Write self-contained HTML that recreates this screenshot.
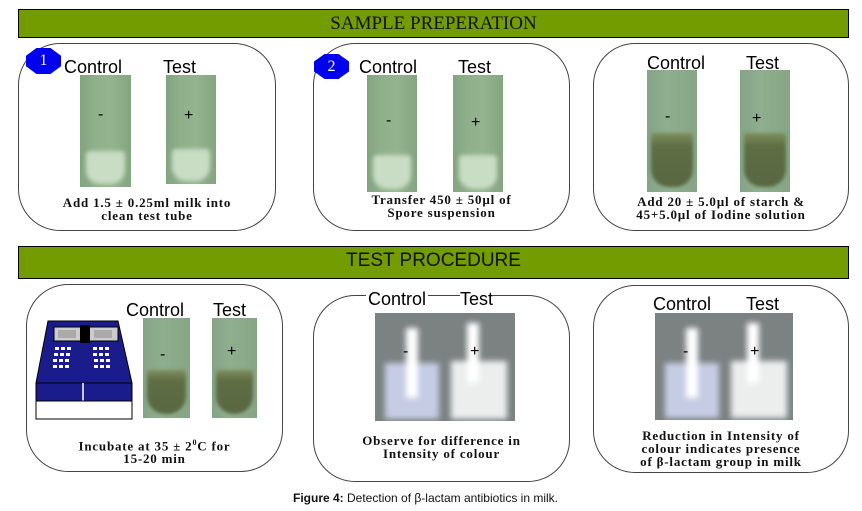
<!DOCTYPE html>
<html><head><meta charset="utf-8"><style>
body{margin:0;width:862px;height:511px;background:#fff;position:relative;overflow:hidden;font-family:"Liberation Sans",sans-serif}
.a{position:absolute}
.ban{position:absolute;background:#739c00;border:1px solid #000;box-sizing:border-box;text-align:center;color:#111}
.box{position:absolute;border:1.3px solid #444;border-radius:42px;box-sizing:border-box}
.lbl{position:absolute;font-size:18px;color:#000;line-height:18px}
.cap{position:absolute;font-family:"Liberation Serif",serif;font-weight:bold;font-size:13px;letter-spacing:0.8px;line-height:13px;text-align:center;color:#111}
.milk{position:absolute;background:linear-gradient(90deg,#82a47f,#8fb08b 30%,#94b38f 60%,#84a580);overflow:hidden}
.milk::after{content:"";position:absolute;left:12%;right:12%;top:68%;bottom:3%;background:#c9dcc4;border-radius:4px 4px 14px 14px;filter:blur(2px)}
.iod{position:absolute;background:linear-gradient(90deg,#84a486,#8fae8e 40%,#86a585);overflow:hidden}
.iod::after{content:"";position:absolute;left:8%;right:8%;top:52%;bottom:4%;background:linear-gradient(#7f8e5c,#5f6d45 25%,#5a6842);border-radius:3px 3px 18px 18px;filter:blur(1.5px)}
.sg{position:absolute;font-size:16px;color:#000;line-height:16px}
.glow{position:absolute;background:#7c8282;overflow:hidden}
.badge{position:absolute;background:#0000ee;color:#fff;font-family:"Liberation Serif",serif;font-size:16px;text-align:center;clip-path:polygon(30% 0,70% 0,100% 30%,100% 70%,70% 100%,30% 100%,0 70%,0 30%)}
</style></head><body>
<div class="ban" style="left:18px;top:9px;width:831px;height:29px;font-family:'Liberation Serif',serif;font-size:19px;line-height:28px">SAMPLE PREPERATION</div>
<div class="ban" style="left:18px;top:246px;width:831px;height:33px;font-size:19px;line-height:28px">TEST PROCEDURE</div>

<!-- row1 box1 -->
<div class="box" style="left:18px;top:43px;width:258px;height:188px"></div>
<div class="badge" style="left:26px;top:48px;width:35px;height:26px;line-height:26px">1</div>
<div class="lbl" style="left:64px;top:58px">Control</div>
<div class="lbl" style="left:163px;top:58px">Test</div>
<div class="milk" style="left:80px;top:75px;width:51px;height:112px"></div>
<div class="milk" style="left:166px;top:75px;width:50px;height:109px"></div>
<div class="sg" style="left:98px;top:107px">-</div>
<div class="sg" style="left:184px;top:108px">+</div>
<div class="cap" style="left:18px;top:196px;width:258px">Add 1.5 ± 0.25ml milk into<br>clean test tube</div>

<!-- row1 box2 -->
<div class="box" style="left:313px;top:43px;width:257px;height:188px"></div>
<div class="badge" style="left:314px;top:54px;width:35px;height:25px;line-height:25px">2</div>
<div class="lbl" style="left:359px;top:58px">Control</div>
<div class="lbl" style="left:458px;top:58px">Test</div>
<div class="milk" style="left:367px;top:75px;width:50px;height:117px"></div>
<div class="milk" style="left:453px;top:75px;width:50px;height:117px"></div>
<div class="sg" style="left:386px;top:113px">-</div>
<div class="sg" style="left:471px;top:115px">+</div>
<div class="cap" style="left:313px;top:193px;width:257px">Transfer 450 ± 50µl of<br>Spore suspension</div>

<!-- row1 box3 -->
<div class="box" style="left:593px;top:43px;width:256px;height:188px"></div>
<div class="lbl" style="left:647px;top:54px">Control</div>
<div class="lbl" style="left:746px;top:54px">Test</div>
<div class="iod" style="left:647px;top:70px;width:50px;height:122px"></div>
<div class="iod" style="left:740px;top:70px;width:50px;height:122px"></div>
<div class="sg" style="left:665px;top:109px">-</div>
<div class="sg" style="left:752px;top:111px">+</div>
<div class="cap" style="left:593px;top:195px;width:256px">Add 20 ± 5.0µl of starch &amp;<br>45+5.0µl of Iodine solution</div>

<!-- row2 box1 -->
<div class="box" style="left:26px;top:284px;width:257px;height:188px"></div>
<svg class="a" style="left:34px;top:319px" width="104" height="102" viewBox="0 0 104 102">
<polygon points="14,2 84,2 98,64 2,64" fill="#1b1c8c" stroke="#000"/>
<rect x="20" y="8" width="64" height="14" fill="#ccc" stroke="#000"/>
<rect x="46" y="6" width="10" height="18" fill="#000"/>
<rect x="24" y="11" width="18" height="8" fill="#aaa"/><rect x="60" y="11" width="18" height="8" fill="#aaa"/>
<g fill="#fff">
<rect x="21" y="28" width="4" height="3"/><rect x="27" y="28" width="4" height="3"/><rect x="33" y="28" width="4" height="3"/>
<rect x="20" y="34" width="4" height="3"/><rect x="26" y="34" width="4" height="3"/><rect x="32" y="34" width="4" height="3"/>
<rect x="19" y="40" width="4" height="3"/><rect x="25" y="40" width="4" height="3"/><rect x="31" y="40" width="4" height="3"/>
<rect x="19" y="46" width="4" height="3"/><rect x="25" y="46" width="4" height="3"/><rect x="31" y="46" width="4" height="3"/>
<rect x="59" y="28" width="4" height="3"/><rect x="65" y="28" width="4" height="3"/><rect x="71" y="28" width="4" height="3"/>
<rect x="59" y="34" width="4" height="3"/><rect x="65" y="34" width="4" height="3"/><rect x="71" y="34" width="4" height="3"/>
<rect x="60" y="40" width="4" height="3"/><rect x="66" y="40" width="4" height="3"/><rect x="72" y="40" width="4" height="3"/>
<rect x="60" y="46" width="4" height="3"/><rect x="66" y="46" width="4" height="3"/><rect x="72" y="46" width="4" height="3"/>
</g>
<rect x="2" y="64" width="96" height="18" fill="#1b1c8c" stroke="#000"/>
<line x1="49" y1="64" x2="49" y2="82" stroke="#fff" stroke-width="1.5"/>
<rect x="2" y="82" width="96" height="18" fill="#fff" stroke="#000"/>
</svg>
<div class="lbl" style="left:126px;top:301px">Control</div>
<div class="lbl" style="left:213px;top:301px">Test</div>
<div class="iod" style="left:143px;top:318px;width:47px;height:100px"></div>
<div class="iod" style="left:212px;top:318px;width:45px;height:100px"></div>
<div class="sg" style="left:160px;top:347px">-</div>
<div class="sg" style="left:227px;top:344px">+</div>
<div class="cap" style="left:26px;top:436px;width:257px">Incubate at 35 ± 2<sup style="font-size:8px">0</sup>C for<br>15-20 min</div>

<!-- row2 box2 -->
<div class="box" style="left:313px;top:295px;width:257px;height:187px"></div>
<div class="glow" style="left:375px;top:313px;width:140px;height:108px">
<div class="a" style="left:10px;top:50px;width:54px;height:56px;background:#c6cce4;filter:blur(3px)"></div>
<div class="a" style="left:76px;top:48px;width:56px;height:58px;background:#eceeee;filter:blur(3px)"></div>
<div class="a" style="left:31px;top:15px;width:12px;height:70px;background:#fff;filter:blur(3px)"></div>
<div class="a" style="left:92px;top:10px;width:12px;height:60px;background:#fff;filter:blur(3px)"></div>
</div>
<div class="lbl" style="left:366px;top:290px;background:#fff;padding:0 2px">Control</div>
<div class="lbl" style="left:460px;top:290px;background:#fff">Test</div>
<div class="sg" style="left:403px;top:344px">-</div>
<div class="sg" style="left:470px;top:344px">+</div>
<div class="cap" style="left:313px;top:434px;width:257px">Observe for difference in<br>Intensity of colour</div>

<!-- row2 box3 -->
<div class="box" style="left:593px;top:285px;width:256px;height:188px"></div>
<div class="lbl" style="left:653px;top:295px">Control</div>
<div class="lbl" style="left:746px;top:295px">Test</div>
<div class="glow" style="left:655px;top:313px;width:138px;height:107px">
<div class="a" style="left:10px;top:50px;width:54px;height:55px;background:#c6cce4;filter:blur(3px)"></div>
<div class="a" style="left:76px;top:48px;width:56px;height:57px;background:#eceeee;filter:blur(3px)"></div>
<div class="a" style="left:31px;top:15px;width:12px;height:70px;background:#fff;filter:blur(3px)"></div>
<div class="a" style="left:92px;top:10px;width:12px;height:60px;background:#fff;filter:blur(3px)"></div>
</div>
<div class="sg" style="left:683px;top:344px">-</div>
<div class="sg" style="left:750px;top:344px">+</div>
<div class="cap" style="left:593px;top:429px;width:256px">Reduction in Intensity of<br>colour indicates presence<br>of β-lactam group in milk</div>

<div class="a" style="left:293px;top:491px;font-size:12px;line-height:14px;color:#111"><b>Figure 4:</b> Detection of β-lactam antibiotics in milk.</div>
</body></html>
